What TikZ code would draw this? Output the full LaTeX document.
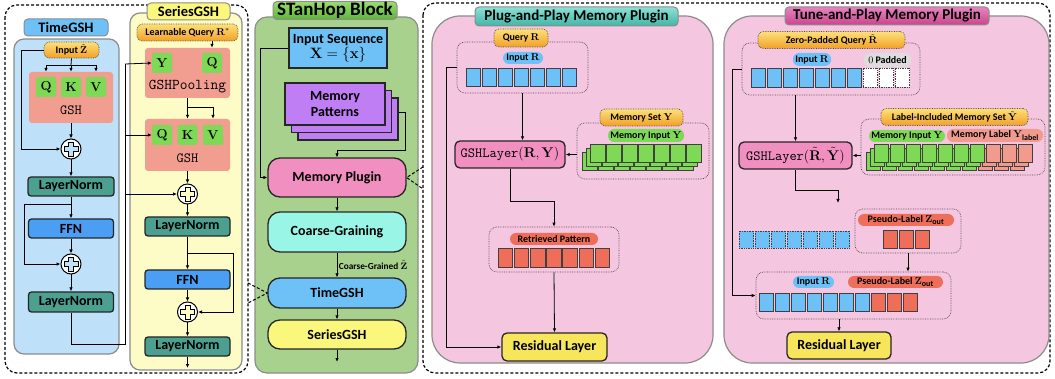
\documentclass[tikz,border=0pt]{standalone}
\usepackage{fix-cm}
\usepackage[no-math]{fontspec}
\setmainfont{Carlito}
\usetikzlibrary{arrows.meta}
\definecolor{tgbg}{HTML}{BEE0F8}
\definecolor{tglab}{HTML}{6EC1F7}
\definecolor{sgbg}{HTML}{FDFBC6}
\definecolor{sglab}{HTML}{FBF77C}
\definecolor{qkv}{HTML}{7ED957}
\definecolor{gshc}{HTML}{F19D90}
\definecolor{lnc}{HTML}{4BA08F}
\definecolor{ffnc}{HTML}{4A9FF5}
\definecolor{stbg}{HTML}{A9D18E}
\definecolor{mpat}{HTML}{C07EF5}
\definecolor{mplug}{HTML}{F08FC0}
\definecolor{cgc}{HTML}{99F5E6}
\definecolor{pinkbg}{HTML}{F5C6E0}
\definecolor{resc}{HTML}{F7E55B}
\definecolor{retc}{HTML}{EF6E5A}
\definecolor{lblc}{HTML}{F09B8D}
\definecolor{greyp}{HTML}{DDDDDD}
\definecolor{tagtop}{HTML}{FCE07A}
\definecolor{tagbot}{HTML}{F2A028}
\definecolor{sttop}{HTML}{9ADB72}
\definecolor{stbot}{HTML}{5DB536}
\definecolor{plugtop}{HTML}{8EE0D4}
\definecolor{plugbot}{HTML}{3FB5A6}
\definecolor{tunetop}{HTML}{E784BE}
\definecolor{tunebot}{HTML}{C9448F}
\tikzset{
 arr/.style={-{Latex[length=4pt,width=3.5pt]}, line width=0.8pt},
 ln/.style={line width=0.8pt},
 sz/.style 2 args={minimum width=#1, minimum height=#2},
 panel/.style={draw=black!45, line width=1.2pt, rounded corners=10pt, inner sep=0pt},
 title/.style={draw=black!45, line width=1pt, rounded corners=4pt, inner sep=0pt, font=\bfseries\fontsize{14.5}{16}\selectfont},
 blk/.style={draw=black!85, line width=1.3pt, rounded corners=3pt, inner sep=0pt, font=\bfseries\fontsize{14}{16}\selectfont},
 inner/.style={rounded corners=3pt, inner sep=0pt},
 letter/.style={fill=qkv, rounded corners=1.5pt, minimum width=20, minimum height=20, inner sep=0pt, font=\fontsize{13}{13}\selectfont},
 ttl/.style={inner sep=0pt, font=\ttfamily\fontsize{14}{14}\selectfont},
 tag/.style={draw=black!70, densely dotted, line width=0.7pt, rounded corners=5pt, top color=tagtop, bottom color=tagbot, inner sep=0pt, font=\bfseries\fontsize{10}{12}\selectfont},
 pill/.style={rounded corners=6pt, inner sep=0pt, font=\bfseries\fontsize{10}{12}\selectfont},
 grp/.style={draw=black!70, densely dotted, line width=0.7pt, rounded corners=8pt, inner sep=0pt},
 cell/.style={draw=black!75, line width=0.7pt, minimum width=14.5, minimum height=18, inner sep=0pt},
 plusc/.style={circle, draw, line width=1pt, fill=white, minimum size=20, inner sep=0pt,
   path picture={\draw[fill=#1, line width=0.6pt, shift={(path picture bounding box.center)}]
   (-2.5,-7) -- (2.5,-7) -- (2.5,-2.5) -- (7,-2.5) -- (7,2.5) -- (2.5,2.5) -- (2.5,7) -- (-2.5,7) -- (-2.5,2.5) -- (-7,2.5) -- (-7,-2.5) -- (-2.5,-2.5) -- cycle;}},
 outdash/.style={line width=1.2pt, dash pattern=on 3pt off 2pt, rounded corners=12pt},
 call/.style={line width=1pt, dash pattern=on 3pt off 2pt},
}
\newcommand{\sbt}[1]{\mbox{\bfseries\fontsize{8}{8}\selectfont #1}}
\begin{document}
\begin{tikzpicture}[x=1pt,y=-1pt]
\useasboundingbox (0,0) rectangle (1055,379);
% outer dashed frames
\draw[outdash] (5,5) rectangle (248,373);
\draw[outdash] (423,3) rectangle (1050,373);

% ================= TimeGSH =================
\node[panel, fill=tgbg, sz={105}{315}] (tpanel) at (66.5,196.5) {};
\node[title, fill=tglab, sz={84}{17}] (ttitle) at (66,27.5) {TimeGSH};
\node[inner, fill=gshc, sz={84}{51}] (tgsh) at (71,97.5) {};
\node[letter] (tQ) at (46,87) {$\mathbf{Q}$};
\node[letter] (tK) at (71,87) {$\mathbf{K}$};
\node[letter] (tV) at (96,87) {$\mathbf{V}$};
\node[ttl] (tgshl) at (71,110) {GSH};
\node[tag, sz={55}{16}] (tin) at (71.5,50) {Input $\tilde{\mathbf{Z}}$};
\node[plusc=tgbg] (tp1) at (71,149) {};
\node[blk, fill=lnc, sz={86}{19}] (tln1) at (71,186.5) {LayerNorm};
\node[blk, fill=ffnc, sz={85}{19}] (tffn) at (71,228.5) {FFN};
\node[plusc=tgbg] (tp2) at (71,264) {};
\node[blk, fill=lnc, sz={85}{20}] (tln2) at (71,302) {LayerNorm};
\coordinate (tsp) at (71,65);
\draw[ln] (tin.south) -- (tsp);
\draw[arr] (tsp) -| (tQ.north |- tgsh.north);
\draw[arr] (tsp) -- (tK.north |- tgsh.north);
\draw[arr] (tsp) -| (tV.north |- tgsh.north);
\draw[arr] (tgsh.south) -- (tp1.north);
\draw[arr] (tin.west) -| (21,149) -- (tp1.west);
\draw[arr] (tp1.south) -- (tln1.north);
\draw[arr] (tln1.south) -- (tffn.north);
\draw[arr] (71,204) -| (24,264) -- (tp2.west);
\draw[arr] (tffn.south) -- (tp2.north);
\draw[arr] (tp2.south) -- (tln2.north);

% ================= SeriesGSH =================
\node[panel, fill=sgbg, sz={112}{357}] (spanel) at (186,191.5) {};
\node[title, fill=sglab, sz={83}{17}] (stitle) at (188.5,11.5) {SeriesGSH};
\node[tag, sz={101}{17}] (slq) at (187.5,32.5) {Learnable Query $\mathbf{R}^{*}$};
\node[inner, fill=gshc, sz={85}{50}] (spool) at (187.5,73) {};
\node[letter] (sY) at (162,63) {$\mathbf{Y}$};
\node[letter] (sQa) at (212,63) {$\mathbf{Q}$};
\node[ttl, font=\ttfamily\fontsize{15}{15}\selectfont] (spooll) at (187.5,87) {GSHPooling};
\node[inner, fill=gshc, sz={85}{52}] (sgsh) at (187.5,145) {};
\node[letter] (sQ) at (162,135) {$\mathbf{Q}$};
\node[letter] (sK) at (187.5,135) {$\mathbf{K}$};
\node[letter] (sV) at (213,135) {$\mathbf{V}$};
\node[ttl] (sgshl) at (187.5,158) {GSH};
\node[plusc=sgbg] (sp1) at (187.5,194) {};
\node[blk, fill=lnc, sz={85}{19}] (sln1) at (187.5,226.5) {LayerNorm};
\node[blk, fill=ffnc, sz={85}{19}] (sffn) at (187.5,279.5) {FFN};
\node[plusc=sgbg] (sp2) at (187.5,312) {};
\node[blk, fill=lnc, sz={85}{19}] (sln2) at (187.5,346.5) {LayerNorm};
\coordinate (sout) at (187.5,368);
\draw[arr] (slq.south -| sQa.north) -- (sQa.north |- spool.north);
\draw[ln] (spool.south) -- (187.5,107);
\draw[arr] (187.5,107) -- (sK.north |- sgsh.north);
\draw[arr] (187.5,107) -| (sV.north |- sgsh.north);
\draw[ln] (tln2.south) |- (125,344) -- (125,64);
\draw[arr] (125,64) -- (sY.west);
\draw[arr] (125,135) -- (sQ.west);
\draw[arr] (125,194) -- (sp1.west);
\draw[arr] (sgsh.south) -- (sp1.north);
\draw[arr] (sp1.south) -- (sln1.north);
\draw[arr] (sln1.south) -- (sffn.north);
\draw[arr] (187.5,253) -| (233,312) -- (sp2.east);
\draw[arr] (sffn.south) -- (sp2.north);
\draw[arr] (sp2.south) -- (sln2.north);
\draw[arr] (sln2.south) -- (sout);

% ================= STanHop Block =================
\node[panel, fill=stbg, sz={163}{356}, rounded corners=12pt] (stpanel) at (336.5,195) {};
\node[title, top color=sttop, bottom color=stbot, sz={124}{18}, font=\bfseries\fontsize{19}{20}\selectfont] (sttitle) at (335,10.5) {STanHop Block};
\node[blk, fill=tglab, sz={98}{40}, rounded corners=0pt, align=center] (iseq) at (338,48) {Input Sequence\\[-1pt]{\fontsize{15}{15}\selectfont$\mathbf{X}=\{\mathbf{x}\}$}};
\node[blk, fill=mpat, sz={100}{42}, rounded corners=0pt] (mp3) at (348,119) {};
\node[blk, fill=mpat, sz={100}{42}, rounded corners=0pt] (mp2) at (341.5,111.5) {};
\node[blk, fill=mpat, sz={100}{42}, rounded corners=0pt, align=center] (mp1) at (335,104) {Memory\\Patterns};
\node[blk, fill=mplug, sz={138}{39}, rounded corners=12pt] (mplug) at (337,177.5) {Memory Plugin};
\node[blk, fill=cgc, sz={138}{40}, rounded corners=12pt] (cg) at (337,232) {Coarse-Graining};
\node[blk, fill=tglab, sz={138}{30}, rounded corners=12pt] (tgn) at (337,293) {TimeGSH};
\node[blk, fill=sglab, sz={138}{29}, rounded corners=12pt] (sgn) at (337,334.5) {SeriesGSH};
\coordinate (stout) at (337,362);
\draw[arr] (iseq.west) -- (260,48) |- (mplug.west);
\draw[arr] ([yshift=7pt]mp3.east) -- ++(7,0) |- (337,150) -- (mplug.north);
\draw[arr] (mplug.south) -- (cg.north);
\draw[arr] (cg.south) -- node[right, inner sep=1.5pt, font=\bfseries\fontsize{9.3}{11}\selectfont] (cglab) {Coarse-Grained $\tilde{\mathbf{Z}}$} (tgn.north);
\draw[arr] (tgn.south) -- (sgn.north);
\draw[arr] (sgn.south) -- (stout);
\draw[call] (248,283) -- (tgn.west) -- (248,303);
\draw[call] (423,167) -- (mplug.east) -- (423,189);

% ================= Plug-and-Play =================
\node[panel, fill=pinkbg, sz={281}{347}, rounded corners=28pt] (ppanel) at (572.5,189.5) {};
\node[title, top color=plugtop, bottom color=plugbot, sz={203}{19}, font=\bfseries\fontsize{15}{16}\selectfont] (ptitle) at (576.5,16.5) {Plug-and-Play Memory Plugin};
\node[grp, sz={131}{51}] (g1) at (522.5,67.5) {};
\node[tag, sz={54}{18}] (pq) at (521,38) {Query $\mathbf{R}$};
\node[pill, fill=tglab, sz={40}{12}] (pinR) at (523,58) {Input $\mathbf{R}$};
\foreach \i in {0,...,6} \node[cell, fill=tglab] (pc\i) at ({473.5+16*\i},77) {};
\node[blk, fill=mplug, sz={110}{27}, rounded corners=5pt, font=\fontsize{14}{16}\selectfont] (gl1) at (510,154.5) {{\ttfamily GSHLayer}$(\mathbf{R},\mathbf{Y})$};
\node[grp, sz={132}{56}] (g2) at (643,151) {};
\node[tag, sz={83}{17}] (pms) at (641.5,117.5) {Memory Set $\mathbf{Y}$};
\node[pill, fill=qkv, sz={76}{13}] (pmi) at (646,135.5) {Memory Input $\mathbf{Y}$};
\foreach \o in {8,4,0} \foreach \i in {0,...,6} \node[cell, fill=qkv] (pm\o-\i) at ({598-\o+16*\i},{153+\o}) {};
\node[grp, sz={130}{45}] (g3) at (554,249.5) {};
\node[pill, fill=retc, sz={88}{12}] (pret) at (554,239) {Retrieved Pattern};
\foreach \i in {0,...,6} \node[cell, fill=retc, minimum height=19] (pr\i) at ({505.25+16.2*\i},257.5) {};
\node[blk, fill=resc, sz={105}{28}, rounded corners=5pt] (res1) at (554.5,347) {Residual Layer};
\draw[arr] (g1.west) -- (446,67.5) |- (res1.west);
\draw[arr] (g1.south) -- (g1.south |- gl1.north);
\draw[arr] (g2.west |- gl1.east) -- (gl1.east);
\draw[arr] (gl1.south) -- (510,201) -| (g3.north);
\draw[arr] (g3.south) -- (res1.north);

% ================= Tune-and-Play =================
\node[panel, fill=pinkbg, sz={325}{347}, rounded corners=28pt] (tpn) at (886.5,189.5) {};
\node[title, top color=tunetop, bottom color=tunebot, sz={204}{18}, font=\bfseries\fontsize{15}{16}\selectfont] (tutitle) at (887,16) {Tune-and-Play Memory Plugin};
\node[grp, sz={178}{52}] (g4) at (831,69) {};
\node[tag, sz={147}{17}] (tzq) at (831.5,40) {Zero-Padded Query $\tilde{\mathbf{R}}$};
\node[pill, fill=tglab, sz={38}{13}] (tinR) at (812,59.5) {Input $\mathbf{R}$};
\node[pill, fill=greyp, sz={47}{14}] (tpad) at (887.5,60) {$0$ Padded};
\foreach \i in {0,...,6} \node[cell, fill=tglab, minimum height=19] (tc\i) at ({758.25+16*\i},77.5) {};
\foreach \i in {7,8,9} \node[cell, fill=white, densely dotted, minimum height=19] (tc\i) at ({758.25+16*\i},77.5) {};
\node[blk, fill=mplug, sz={113}{27}, rounded corners=5pt, font=\fontsize{14}{16}\selectfont] (gl2) at (795.5,155.5) {{\ttfamily GSHLayer}$(\tilde{\mathbf{R}},\tilde{\mathbf{Y}})$};
\node[grp, sz={184}{56}] (g5) at (953,147) {};
\node[tag, sz={147}{17}] (tlims) at (954.5,117) {Label-Included Memory Set $\tilde{\mathbf{Y}}$};
\node[pill, fill=qkv, sz={76}{12}] (tmi) at (907,136) {Memory Input $\mathbf{Y}$};
\node[pill, fill=lblc, sz={96}{13}] (tml) at (995,135.5) {Memory Label $\mathbf{Y}_{\sbt{label}}$};
\foreach \o in {8,4,0} {
  \foreach \i in {0,...,6} \node[cell, fill=qkv] (tm\o-\i) at ({881.25-\o+16*\i},{153+\o}) {};
  \foreach \i in {7,8,9} \node[cell, fill=lblc] (tm\o-\i) at ({881.25-\o+16*\i},{153+\o}) {};
}
\coordinate (tpend) at (838,203);
\foreach \i in {0,...,6} \node[cell, fill=tglab, densely dotted, minimum height=17] (td\i) at ({746.25+16*\i},239.5) {};
\node[grp, sz={106}{44}] (g6) at (908,231) {};
\node[pill, fill=retc, sz={96}{12}] (tps) at (906,220) {Pseudo-Label $\mathbf{Z}_{\sbt{out}}$};
\foreach \i in {0,1,2} \node[cell, fill=retc] (tz\i) at ({890.25+16*\i},239) {};
\node[grp, sz={195}{47}] (g7) at (853.5,295.5) {};
\node[pill, fill=tglab, sz={41}{12}] (tinR2) at (813.5,282) {Input $\mathbf{R}$};
\node[pill, fill=retc, sz={95}{12}] (tps2) at (895.5,282) {Pseudo-Label $\mathbf{Z}_{\sbt{out}}$};
\foreach \i in {0,...,6} \node[cell, fill=tglab] (tf\i) at ({766.25+16*\i},302) {};
\foreach \i in {7,8,9} \node[cell, fill=retc] (tf\i) at ({766.25+16*\i},302) {};
\node[blk, fill=resc, sz={104}{27}, rounded corners=5pt] (res2) at (839,345.5) {Residual Layer};
\draw[arr] (g4.west) -- (732,69) |- (g7.west);
\draw[arr] (g4.south -| gl2.north) -- (gl2.north);
\draw[arr] (g5.west |- gl2.east) -- (gl2.east);
\draw[arr] (gl2.south) -- (795.5,190) -| (tpend);
\draw[arr] (g6.south) -- (g6.south |- g7.north);
\draw[arr] (g7.south -| res2.north) -- (res2.north);
\end{tikzpicture}
\end{document}
